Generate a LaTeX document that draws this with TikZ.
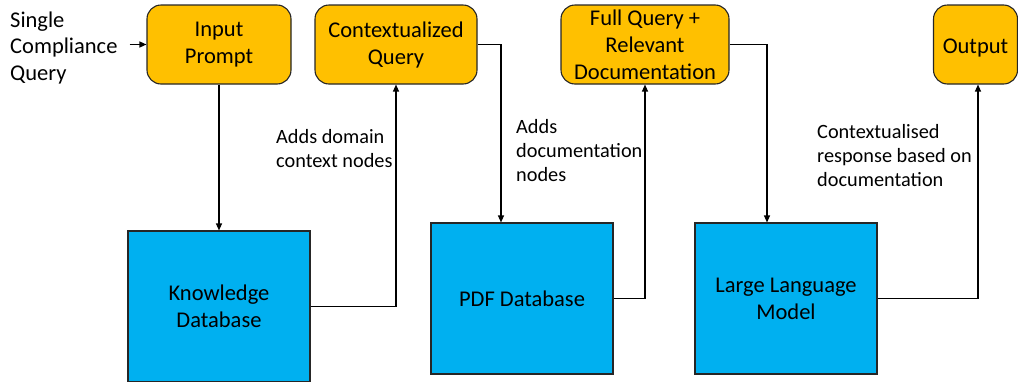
\documentclass[tikz,border=0pt]{standalone}
\usepackage{fontspec}
\setmainfont{Carlito}
\usetikzlibrary{arrows.meta,calc}
\definecolor{qorange}{HTML}{FFC000}
\definecolor{sblue}{HTML}{00B0F0}
\definecolor{edge}{HTML}{262626}
\begin{document}
\begin{tikzpicture}[x=1pt,y=-1pt,
  query/.style={draw=edge, line width=1.1pt, fill=qorange, rounded corners=14pt,
    align=center, inner sep=0pt, minimum height=79pt,
    font=\fontsize{22.5}{27}\selectfont,
    execute at begin node={\rule{0pt}{21pt}}},
  store/.style={draw=edge, line width=1.1pt, fill=sblue, align=center, inner sep=0pt,
    minimum width=182pt, minimum height=151pt,
    font=\fontsize{22.5}{27}\selectfont},
  link/.style={line width=1.2pt, draw=black, -{Triangle[length=7pt,width=6pt]}},
  note/.style={align=left, inner sep=0pt, anchor=base west,
    font=\fontsize{20.3}{24}\selectfont}
]
\useasboundingbox (0,0) rectangle (1018,381);

% top row: query stages
\node[query, minimum width=144pt] (ip) at (219,44.5) {Input\\Prompt};
\node[query, minimum width=162pt] (cq) at (396,44.5) {Contextualized\\Query};
\node[query, minimum width=168pt] (fq) at (645,44.5) {Full Query +\\Relevant\\Documentation};
\node[query, minimum width=84pt] (out) at (975.5,44.5) {Output};

% bottom row: data sources and model
\node[store] (kd) at (219,306.5) {Knowledge\\Database};
\node[store] (pdf) at (522,298.5) {PDF Database};
\node[store] (llm) at (786,298.5) {Large Language\\Model};

% input text (base anchor sits on the last line)
\node[note, font=\fontsize{22.5}{26.5}\selectfont] (sq) at (10,80) {Single\\Compliance\\Query};
\draw[link] ($(ip.west -| sq.east)+(12,0)$) -- (ip.west);

% flow connectors
\draw[link] (ip.south) -- (kd.north);
\draw[link] (kd.east) -| (cq.south);
\draw[link] (cq.east) -| ([xshift=-21pt]pdf.north);
\draw[link] (pdf.east) -| (fq.south);
\draw[link] (fq.east) -| ([xshift=-19pt]llm.north);
\draw[link] (llm.east) -| ([xshift=2.5pt]out.south);

% connector annotations
\node[note] (n1) at (276,167) {Adds domain\\context nodes};
\node[note] (n2) at (516,181) {Adds\\documentation\\nodes};
\node[note] (n3) at (817,186) {Contextualised\\response based on\\documentation};
\end{tikzpicture}
\end{document}
